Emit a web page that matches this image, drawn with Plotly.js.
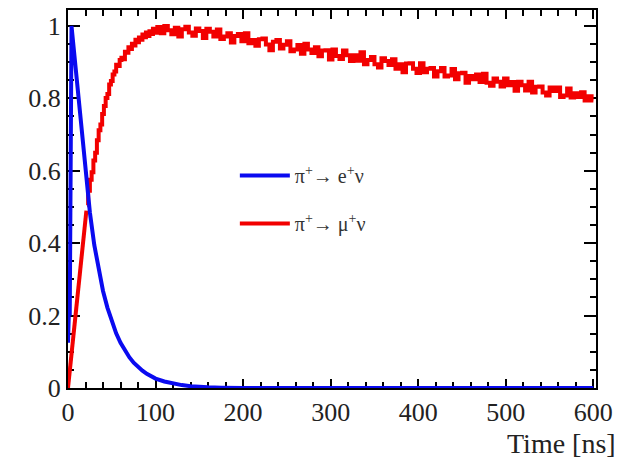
<!DOCTYPE html>
<html>
<head>
<meta charset="utf-8">
<script src="https://cdn.plot.ly/plotly-3.0.1.min.js"></script>
<style>html,body{margin:0;padding:0;background:#fff;}#chart{width:618px;height:459px;}</style>
</head>
<body>
<div id="chart"></div>
<script>
// pi+ -> e+ nu (smooth curve)
const timeE = [0, 1, 2, 4, 23, 25, 30, 35, 40, 45, 50, 55, 60, 65, 70, 75, 80, 85, 90, 95, 100, 110, 120, 130, 140, 150, 160, 175, 200, 300, 400, 500, 600];
const valE  = [0.125, 0.21, 0.2, 1.0, 0.52, 0.485, 0.395, 0.325, 0.268, 0.222, 0.183, 0.151, 0.125, 0.103, 0.085, 0.070, 0.058, 0.048, 0.039, 0.032, 0.026, 0.018, 0.012, 0.008, 0.005, 0.003, 0.002, 0.001, 0, 0, 0, 0, 0];

// pi+ -> mu+ nu : initial ramp, then histogram bins
const rampT = [0, 21];
const rampV = [0, 0.49];
const binT = [22,24,26,28,30,32,34,36,38,40,42,44,46,48,50,52,54,56,58,60,62,64,66,68,70,72,74,76,78,80,82,84,86,88,90,92,94,96,98,100,
104,108,112,116,120,124,128,132,136,140,144,148,152,156,160,164,168,172,176,180,184,188,192,196,200,204,208,212,216,220,224,228,232,236,240,244,248,252,256,260,264,268,272,276,280,284,288,292,296,300,304,308,312,316,320,324,328,332,336,340,344,348,352,356,360,364,368,372,376,380,384,388,392,396,400,404,408,412,416,420,424,428,432,436,440,444,448,452,456,460,464,468,472,476,480,484,488,492,496,500,504,508,512,516,520,524,528,532,536,540,544,548,552,556,560,564,568,572,576,580,584,588,592,596,600];
const binV = [0.505,0.545,0.575,0.596,0.628,0.650,0.684,0.712,0.728,0.757,0.779,0.801,0.812,0.838,0.848,0.866,0.874,0.893,0.889,0.906,0.912,0.908,0.929,0.926,0.941,0.936,0.951,0.946,0.962,0.955,0.968,0.962,0.976,0.969,0.982,0.972,0.985,0.978,0.992,0.981,
0.997,0.980,1.000,0.988,0.977,0.995,0.971,0.991,0.998,0.982,0.973,0.993,0.986,0.967,0.992,0.984,0.971,0.990,0.964,0.971,0.980,0.954,0.972,0.978,0.958,0.980,0.952,0.961,0.945,0.963,0.965,0.949,0.933,0.956,0.961,0.938,0.948,0.958,0.930,0.935,0.947,0.923,0.951,0.935,0.925,0.941,0.916,0.932,0.933,0.907,0.935,0.917,0.909,0.932,0.919,0.903,0.919,0.904,0.927,0.894,0.906,0.914,0.894,0.885,0.911,0.903,0.892,0.908,0.882,0.894,0.872,0.896,0.897,0.882,0.870,0.897,0.872,0.882,0.884,0.860,0.875,0.884,0.860,0.863,0.881,0.853,0.869,0.871,0.843,0.862,0.853,0.866,0.845,0.868,0.843,0.835,0.855,0.846,0.833,0.855,0.836,0.845,0.821,0.846,0.836,0.822,0.846,0.816,0.832,0.833,0.816,0.808,0.830,0.820,0.830,0.804,0.808,0.827,0.802,0.814,0.804,0.817,0.794,0.806,0.794];

const labelE = 'π<sup>+</sup>→ e<sup>+</sup>ν';
const labelMu = 'π<sup>+</sup>→ μ<sup>+</sup>ν';
const xTitle = 'Time [ns]';

const blue = '#0a0af0';
const red = '#f20000';
const serif = 'Liberation Serif';

const traces = [
  {x: rampT, y: rampV, mode: 'lines', line: {color: red, width: 4}, showlegend: false, hoverinfo: 'skip'},
  {x: binT, y: binV, mode: 'lines', line: {color: red, width: 4, shape: 'hvh'}, name: labelMu, legendrank: 2, legendgroup: 'mu'},
  {x: timeE, y: valE, mode: 'lines', line: {color: blue, width: 4}, name: labelE, legendrank: 1, legendgroup: 'e'}
];

const axisCommon = {
  showgrid: false, zeroline: false, showline: true, linecolor: '#000', linewidth: 2,
  mirror: 'ticks', ticks: 'inside', tickcolor: '#000', tickwidth: 2,
  tickfont: {family: serif, size: 26, color: '#222'}, layer: 'below traces'
};

const layout = {
  width: 618, height: 459,
  margin: {l: 68, r: 22, t: 10, b: 71},
  paper_bgcolor: '#fff', plot_bgcolor: '#fff',
  font: {family: serif},
  showlegend: true,
  legend: {x: 0.316, y: 0.614, xanchor: 'left', yanchor: 'top', bgcolor: 'rgba(0,0,0,0)', itemwidth: 50,
           font: {family: serif, size: 20, color: '#333'}, tracegroupgap: 19, traceorder: 'grouped'},
  xaxis: Object.assign({}, axisCommon, {range: [0, 603], dtick: 100, ticklen: 9,
           minor: {dtick: 20, ticks: 'inside', ticklen: 6, tickcolor: '#000', tickwidth: 2}}),
  yaxis: Object.assign({}, axisCommon, {range: [0, 1.044], dtick: 0.2, ticklen: 12,
           minor: {dtick: 0.05, ticks: 'inside', ticklen: 6, tickcolor: '#000', tickwidth: 2}}),
  annotations: [{text: xTitle, xref: 'paper', yref: 'paper', x: 1.04, y: -0.146,
                 xanchor: 'right', yanchor: 'middle', showarrow: false, borderpad: 0,
                 font: {family: serif, size: 28, color: '#222'}}]
};

Plotly.newPlot('chart', traces, layout, {staticPlot: true});
</script>
</body>
</html>
